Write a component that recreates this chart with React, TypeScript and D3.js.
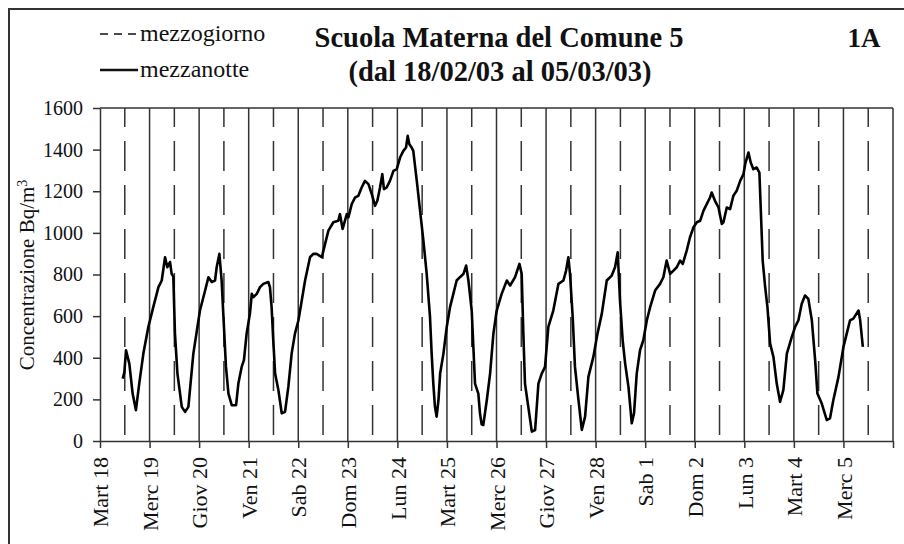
import React, { useRef, useEffect } from "react";
import * as d3 from "d3";

// ore dall'inizio (Mart 18 ore 00:00)
const hours = [
  11.0, 11.8, 12.6, 14.2, 15.8, 17.4, 19.0, 21.0, 23.4, 25.8, 28.3, 29.9, 31.5, 32.6, 33.9, 34.7, 35.5, 36.3,
  37.5, 39.6, 41.2, 42.8, 45.2, 48.4, 50.9, 52.5, 54.1, 55.7, 56.5, 57.8, 58.9, 59.7, 61.0, 62.2, 63.8, 65.9,
  67.0, 68.6, 69.7, 71.0, 72.6, 73.5, 74.3, 75.9, 77.5, 79.1, 81.5, 82.3, 83.1, 83.9, 84.8, 86.4, 88.0, 89.6,
  91.2, 92.8, 94.4, 96.1, 97.7, 99.3, 101.7, 103.3, 104.9, 107.4, 109.0, 110.6, 113.0, 115.4, 116.2, 117.5,
  119.5, 120.3, 121.9, 123.5, 125.1, 126.7, 128.3, 130.0, 131.6, 133.2, 134.3, 135.6, 136.7, 137.5, 138.8,
  140.4, 142.1, 143.7, 145.3, 146.9, 148.2, 149.0, 149.8, 150.9, 151.7, 153.4, 155.0, 156.6, 158.2, 159.8,
  160.6, 161.4, 162.2, 163.0, 163.9, 164.7, 166.3, 167.9, 169.5, 171.1, 172.7, 174.3, 176.0, 177.3, 178.4,
  180.0, 181.6, 183.2, 184.0, 184.8, 185.6, 187.3, 188.9, 190.5, 192.1, 194.5, 197.0, 198.6, 201.0, 203.1,
  204.2, 205.0, 205.8, 207.4, 209.1, 210.7, 212.3, 213.9, 215.5, 217.1, 219.5, 222.0, 224.4, 225.7, 226.8,
  227.6, 228.9, 230.0, 231.7, 233.3, 234.9, 236.5, 238.9, 240.9, 243.0, 245.4, 247.8, 249.4, 250.7, 251.8,
  253.1, 254.3, 255.9, 257.5, 258.6, 259.9, 261.5, 263.1, 264.8, 266.4, 268.8, 271.2, 272.8, 274.4, 276.1,
  277.7, 279.3, 280.9, 282.2, 284.1, 285.7, 287.4, 289.0, 290.6, 292.2, 293.8, 295.4, 296.2, 297.8, 299.5,
  301.1, 301.9, 303.5, 305.1, 306.7, 308.3, 310.0, 311.6, 312.4, 314.0, 315.1, 316.4, 318.0, 319.3, 320.0,
  320.9, 322.1, 323.2, 324.5, 326.1, 327.7, 329.3, 330.9, 332.6, 335.0, 336.6, 338.2, 339.8, 341.4, 343.0,
  344.7, 346.3, 347.4, 349.5, 351.9, 353.5, 355.1, 357.6, 360.0, 361.6, 363.2, 364.8, 367.3, 368.1, 369.4,
];

// concentrazione Bq/m3
const conc = [
  300, 330, 436, 372, 228, 148, 276, 420, 548, 643, 739, 771, 883, 835, 860, 803, 790, 516,
  324, 164, 140, 164, 420, 627, 723, 787, 764, 771, 835, 899, 771, 612, 356, 228, 172, 172,
  276, 356, 389, 516, 612, 707, 691, 707, 739, 755, 764, 739, 643, 484, 324, 244, 133, 140,
  260, 420, 516, 580, 675, 771, 883, 899, 899, 883, 947, 1011, 1051, 1058, 1090, 1019,
  1090, 1075, 1138, 1170, 1178, 1218, 1250, 1234, 1186, 1130, 1154, 1218, 1282, 1210, 1218,
  1250, 1298, 1306, 1362, 1394, 1410, 1466, 1426, 1410, 1394, 1250, 1106, 963, 803, 596,
  420, 276, 164, 117, 196, 324, 420, 548, 643, 707, 771, 787, 803, 843, 771,
  627, 276, 228, 133, 80, 77, 196, 324, 516, 627, 707, 771, 747, 787, 851,
  803, 516, 276, 164, 45, 53, 276, 324, 356, 548, 627, 755, 771, 819, 883,
  803, 596, 356, 196, 53, 117, 308, 404, 516, 612, 771, 795, 835, 907, 675,
  484, 372, 260, 85, 133, 324, 436, 484, 580, 643, 723, 755, 787, 867, 803,
  819, 835, 867, 851, 915, 979, 1027, 1051, 1058, 1106, 1138, 1170, 1194, 1154, 1122,
  1043, 1051, 1122, 1114, 1178, 1202, 1250, 1282, 1330, 1386, 1338, 1306, 1314, 1290, 1106,
  867, 739, 643, 468, 404, 276, 188, 244, 420, 500, 548, 580, 659, 699, 683,
  580, 389, 228, 180, 101, 109, 196, 308, 452, 516, 580, 588, 627, 580, 452,
];

const dayLabels = [
  "Mart 18", "Merc 19", "Giov 20", "Ven 21", "Sab 22", "Dom 23", "Lun 24", "Mart 25",
  "Merc 26", "Giov 27", "Ven 28", "Sab 1", "Dom 2", "Lun 3", "Mart 4", "Merc 5",
];

const yTicks = [0, 200, 400, 600, 800, 1000, 1200, 1400, 1600];

const FONT = "'Liberation Serif', 'Times New Roman', serif";

export default function App() {
  const chartRef = useRef<SVGSVGElement | null>(null);

  useEffect(() => {
    drawChart();
  }, []);

  const drawChart = () => {
    const width = 904;
    const height = 544;
    const left = 100;
    const right = 893;
    const top = 108;
    const bottom = 441;
    const nDays = dayLabels.length;

    const x = d3.scaleLinear().domain([0, nDays * 24]).range([left, right]);
    const y = d3.scaleLinear().domain([0, 1600]).range([bottom, top]);

    const svg = d3.select(chartRef.current).html("");
    svg.attr("width", width).attr("height", height).style("font-family", FONT);

    svg.append("rect").attr("width", width).attr("height", height).attr("fill", "#fff");

    // cornice esterna
    svg
      .append("rect")
      .attr("x", 9)
      .attr("y", 9)
      .attr("width", width + 20)
      .attr("height", height + 20)
      .attr("fill", "none")
      .attr("stroke", "#333")
      .attr("stroke-width", 2);

    const days = d3.range(1, nDays + 1);
    const noons = d3.range(0, nDays);

    // linee mezzanotte
    svg
      .append("g")
      .selectAll("line")
      .data(days)
      .enter()
      .append("line")
      .attr("x1", (d) => x(d * 24))
      .attr("x2", (d) => x(d * 24))
      .attr("y1", top)
      .attr("y2", bottom)
      .attr("stroke", "#333")
      .attr("stroke-width", 1.5);

    // linee mezzogiorno
    svg
      .append("g")
      .selectAll("line")
      .data(noons)
      .enter()
      .append("line")
      .attr("x1", (d) => x(d * 24 + 12))
      .attr("x2", (d) => x(d * 24 + 12))
      .attr("y1", bottom - 6)
      .attr("y2", top)
      .attr("stroke", "#333")
      .attr("stroke-width", 1.5)
      .attr("stroke-dasharray", "30,14");

    // bordo superiore
    svg
      .append("line")
      .attr("x1", left)
      .attr("x2", right)
      .attr("y1", top)
      .attr("y2", top)
      .attr("stroke", "#333")
      .attr("stroke-width", 1.5);

    // serie
    const line = d3
      .line<number>()
      .x((d, i) => x(hours[i]))
      .y((d) => y(d))
      .curve(d3.curveLinear);

    svg
      .append("path")
      .datum(conc)
      .attr("fill", "none")
      .attr("stroke", "#000")
      .attr("stroke-width", 2.6)
      .attr("stroke-linejoin", "round")
      .attr("d", line);

    // asse y
    const yAxis = svg
      .append("g")
      .attr("transform", `translate(${left},0)`)
      .call(
        d3
          .axisLeft(y)
          .tickValues(yTicks)
          .tickFormat(d3.format("d"))
          .tickSize(7)
          .tickSizeOuter(0)
          .tickPadding(10)
      );
    yAxis.attr("font-family", FONT);
    yAxis.selectAll("path, line").attr("stroke", "#333").attr("stroke-width", 1.5);
    yAxis
      .selectAll("text")
      .attr("fill", "#111")
      .style("font-family", FONT)
      .style("font-size", "20px");

    // asse x
    const xAxis = svg
      .append("g")
      .attr("transform", `translate(0,${bottom})`)
      .call(
        d3
          .axisBottom(x)
          .tickValues(d3.range(0, nDays + 1).map((d) => d * 24))
          .tickSize(7)
          .tickSizeOuter(0)
          .tickFormat((d, i) => dayLabels[i] || "")
      );
    xAxis.attr("font-family", FONT);
    xAxis.selectAll("path, line").attr("stroke", "#333").attr("stroke-width", 1.5);
    xAxis
      .selectAll("text")
      .attr("fill", "#111")
      .style("font-family", FONT)
      .style("font-size", "22px")
      .style("text-anchor", "end")
      .attr("y", 0)
      .attr("dy", "0.35em")
      .attr("transform", "translate(0,16) rotate(-90)");

    // titolo y
    const yl = svg
      .append("text")
      .attr("transform", "translate(34,275) rotate(-90)")
      .attr("text-anchor", "middle")
      .attr("fill", "#111")
      .style("font-family", FONT)
      .style("font-size", "21px");
    yl.append("tspan").text("Concentrazione Bq/m");
    yl.append("tspan").attr("dy", "-0.5em").style("font-size", "14px").text("3");

    // titolo
    const title = svg
      .append("g")
      .attr("fill", "#111")
      .style("font-family", FONT)
      .style("font-weight", "bold")
      .style("font-size", "28.5px")
      .attr("text-anchor", "middle");
    title.append("text").attr("x", 499).attr("y", 47).text("Scuola Materna del Comune 5");
    title.append("text").attr("x", 500).attr("y", 81).text("(dal 18/02/03 al 05/03/03)");

    svg
      .append("text")
      .attr("x", 864)
      .attr("y", 47)
      .attr("text-anchor", "middle")
      .attr("fill", "#111")
      .style("font-family", FONT)
      .style("font-weight", "bold")
      .style("font-size", "27px")
      .text("1A");

    // legenda
    const legend = [
      { name: "mezzogiorno", dash: "8,6", y: 34 },
      { name: "mezzanotte", dash: null, y: 70 },
    ];
    const lg = svg.append("g");
    legend.forEach((l) => {
      lg.append("line")
        .attr("x1", 100)
        .attr("x2", 138)
        .attr("y1", l.y)
        .attr("y2", l.y)
        .attr("stroke", "#111")
        .attr("stroke-width", l.dash ? 1.5 : 2.5)
        .attr("stroke-dasharray", l.dash);
      lg.append("text")
        .attr("x", 140)
        .attr("y", l.y + 7)
        .attr("fill", "#111")
        .style("font-family", FONT)
        .style("font-size", "24px")
        .text(l.name);
    });
  };

  return (
    <div style={{ position: "absolute", left: 0, top: 0 }}>
      <svg ref={chartRef} style={{ display: "block" }}></svg>
    </div>
  );
}
